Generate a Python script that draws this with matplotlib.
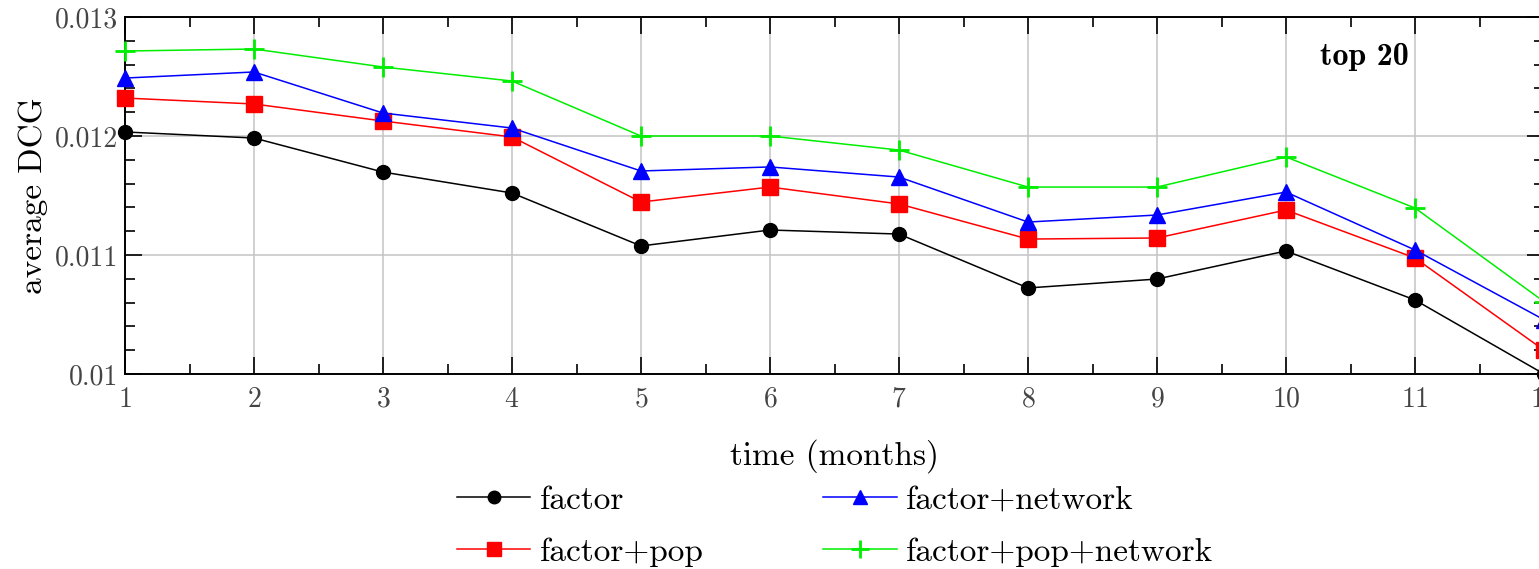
import numpy as np
import matplotlib
matplotlib.use('Agg')
from matplotlib import pyplot as plt
from matplotlib.ticker import MultipleLocator, FixedLocator

# data
months = [1, 2, 3, 4, 5, 6, 7, 8, 9, 10, 11, 12]
factor = [0.012034, 0.011983, 0.011697, 0.011521, 0.011076, 0.011210,
          0.011176, 0.010723, 0.010798, 0.011034, 0.010622, 0.010000]
factor_pop = [0.012319, 0.012269, 0.012126, 0.011992, 0.011445, 0.011571,
              0.011429, 0.011134, 0.011143, 0.011378, 0.010975, 0.010200]
factor_net = [0.012487, 0.012538, 0.012193, 0.012067, 0.011706, 0.011740,
              0.011655, 0.011277, 0.011336, 0.011529, 0.011042, 0.010456]
factor_pop_net = [0.012714, 0.012731, 0.012580, 0.012462, 0.012000, 0.012000,
                  0.011882, 0.011571, 0.011571, 0.011824, 0.011395, 0.010608]
ytick_vals = [0.010, 0.011, 0.012, 0.013]
ytick_labels = ['0.01', '0.011', '0.012', '0.013']

plt.rcParams['font.family'] = ['cmr10', 'DejaVu Serif']
plt.rcParams['axes.formatter.use_mathtext'] = True

W, H = 1539, 569
fig = plt.figure(figsize=(W/100, H/100), dpi=100)
ax = fig.add_axes([125/W, 1-374/H, (1544-125)/W, (374-17)/H])

ax.plot(months, factor, color='black', lw=1.1, marker='o', ms=10, label='factor', clip_on=False, zorder=5)
ax.plot(months, factor_pop, color='#ff0000', lw=1.1, marker='s', ms=11, label='factor+pop', clip_on=False, zorder=5)
ax.plot(months, factor_net, color='#0000ff', lw=1.1, marker='^', ms=11, label='factor+network', clip_on=False, zorder=5)
ax.plot(months, factor_pop_net, color='#00ee00', lw=1.1, marker='+', ms=14, mew=2, label='factor+pop+network', clip_on=False, zorder=5)

ax.set_xlim(1, 12)
ax.set_ylim(0.010, 0.013)
ax.xaxis.set_major_locator(MultipleLocator(1))
ax.xaxis.set_minor_locator(MultipleLocator(0.5))
ax.yaxis.set_major_locator(FixedLocator(ytick_vals))
ax.set_yticklabels(ytick_labels)
ax.yaxis.set_minor_locator(MultipleLocator(0.0002))
ax.tick_params(which='both', direction='in', top=True, right=True, colors='black', labelcolor='#444444', labelsize=20)
ax.tick_params(which='major', length=12, width=1.2)
ax.tick_params(which='minor', length=7, width=1.2)
ax.tick_params(axis='x', pad=9)
ax.tick_params(axis='y', pad=5)
for s in ax.spines.values():
    s.set_linewidth(1.4)
ax.grid(True, which='major', color='#c4c4c4', lw=1.1)
ax.set_axisbelow(True)

ax.set_xlabel('time (months)', fontsize=24, labelpad=19)
ax.set_ylabel('average DCG', fontsize=24, labelpad=5)
ax.text(10.61, 0.012664, 'top 20', fontsize=23, fontfamily=['cmb10', 'DejaVu Serif'],
        ha='center', va='center')

fig.legend(loc='center', bbox_to_anchor=(0.5425, 0.0755), ncol=2, frameon=False,
           fontsize=24, handlelength=2.2, handletextpad=0.27, columnspacing=3.6,
           labelspacing=0.68, markerscale=0.9, borderaxespad=0, borderpad=0)

fig.savefig('out.png', dpi=100)
